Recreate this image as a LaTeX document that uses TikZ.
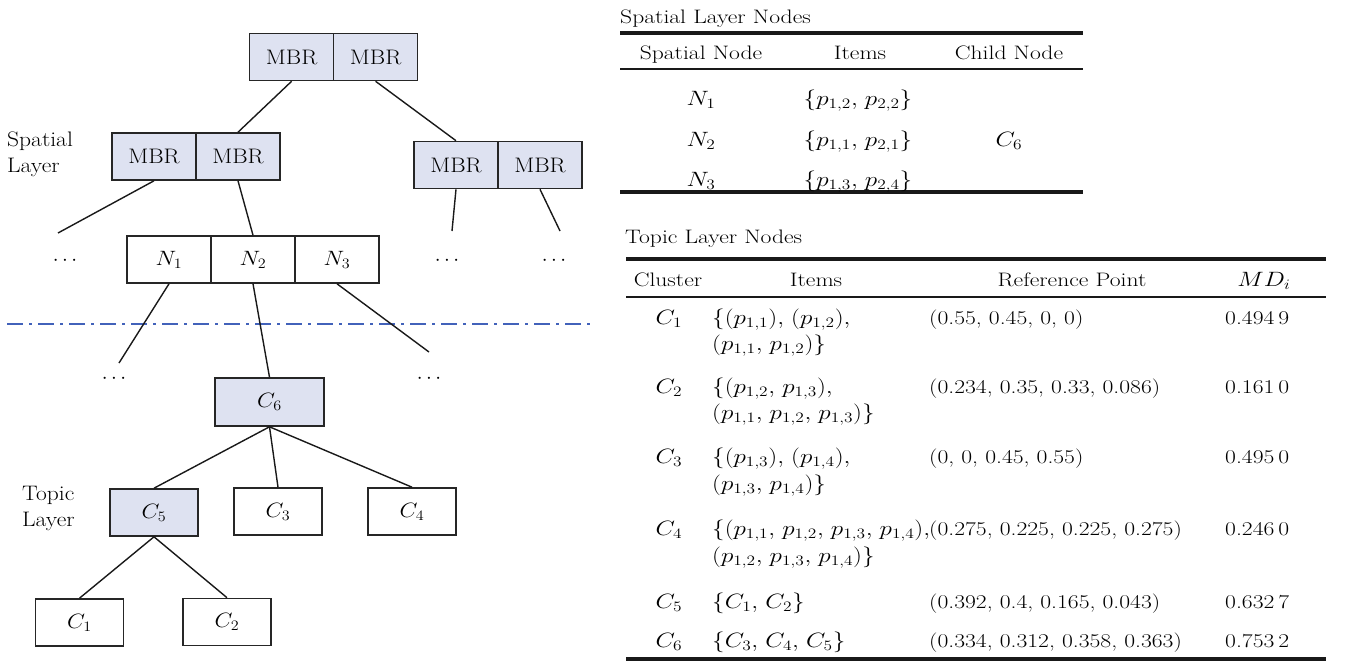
\documentclass[tikz,border=0pt]{standalone}
\definecolor{mbrfill}{RGB}{222,226,241}
\definecolor{sepblue}{RGB}{66,98,186}
% wide-set text
\newcommand\tw[1]{\scalebox{1.12}[1]{#1}}
\newcommand\tb[1]{\scalebox{1.21}[1]{#1}}
\newcommand\treefont{\fontsize{21}{26}\selectfont}
\newcommand\tabfont{\fontsize{19.5}{24}\selectfont}
% list separator inside formulas: comma followed by a word space
\newcommand\cs{{,}\ }

\begin{document}
\begin{tikzpicture}[x=1pt,y=-1pt,
  cell/.style={draw=black!85, line width=1.6pt, minimum width=84pt,
    minimum height=47pt, inner sep=0pt, font=\treefont},
  shaded/.style={cell, fill=mbrfill},
  link/.style={draw=black!90, line width=1.4pt},
  dots/.style={font=\treefont, inner sep=0pt},
  lbl/.style={font=\treefont, inner sep=0pt, align=left},
  sepline/.style={draw=sepblue, line width=1.8pt, dash pattern=on 16pt off 6pt on 3pt off 6pt},
  tx/.style={font=\tabfont, inner sep=0pt},
  heavyrule/.style={draw=black!90, line width=3.4pt},
  lightrule/.style={draw=black!90, line width=2.4pt}]

\useasboundingbox (0,0) rectangle (1346,666);

% ---------------- layer separator ----------------
\coordinate (sepL) at (7,324);
\coordinate (sepR) at (591,324);
\draw[sepline] (sepL) -- (sepR);

% ---------------- spatial layer (R-tree) ----------------
\node[shaded] (t1) at (291.6,57) {\tw{MBR}};
\node[shaded] (t2) at (375.6,57) {\tw{MBR}};
\node[shaded] (l1) at (154,156.5) {\tw{MBR}};
\node[shaded] (l2) at (238,156.5) {\tw{MBR}};
\node[shaded] (r1) at (456,165) {\tw{MBR}};
\node[shaded] (r2) at (540,165) {\tw{MBR}};

\node[cell] (n1) at (169,259.5) {\tw{$N_1$}};
\node[cell] (n2) at (253,259.5) {\tw{$N_2$}};
\node[cell] (n3) at (337,259.5) {\tw{$N_3$}};

\node[dots] (d1) at (65,261) {$\cdots$};
\node[dots] (d2) at (447,261) {$\cdots$};
\node[dots] (d3) at (554,261) {$\cdots$};
\node[dots] (d4) at (114,379) {$\cdots$};
\node[dots] (d5) at (429,379) {$\cdots$};

\coordinate (e1) at (58,233);
\coordinate (e2) at (452,231);
\coordinate (e3) at (560,231);
\coordinate (e4) at (119,363);
\coordinate (e5) at (429,352);

\node[lbl, anchor=west] (spl) at (7,154) {\tw{Spatial}\\\tw{Layer}};

% ---------------- topic layer (cluster tree) ----------------
\node[shaded, minimum width=109pt, minimum height=48pt] (c6) at (269.5,402) {\tw{$C_6$}};
\node[shaded, minimum width=88pt] (c5) at (154,512.5) {\tw{$C_5$}};
\node[cell, minimum width=88pt] (c3) at (278,511.5) {\tw{$C_3$}};
\node[cell, minimum width=88pt] (c4) at (412,511.5) {\tw{$C_4$}};
\node[cell, minimum width=88pt] (c1) at (79.5,622.5) {\tw{$C_1$}};
\node[cell, minimum width=88pt] (c2) at (227,622) {\tw{$C_2$}};

\node[lbl, anchor=west] (tpl) at (22,508) {\tw{Topic}\\\tw{Layer}};

% ---------------- connectors ----------------
\draw[link] (t1.south) -- (l2.north);
\draw[link] (t2.south) -- (r1.north);
\draw[link] (l1.south) -- (e1);
\draw[link] (l2.south) -- (n2.north);
\draw[link] (r1.south) -- (e2);
\draw[link] (r2.south) -- (e3);
\draw[link] (n1.south) -- (e4);
\draw[link] (n2.south) -- (c6.north);
\draw[link] (n3.south) -- (e5);
\draw[link] (c6.south) -- (c5.north);
\draw[link] (c6.south) -- (c3.north);
\draw[link] (c6.south) -- (c4.north);
\draw[link] (c5.south) -- (c1.north);
\draw[link] (c5.south) -- (c2.north);

% ---------------- table: spatial layer nodes ----------------
\node[tx, anchor=base west] (st) at (620,23.6) {\tb{Spatial Layer Nodes}};
\coordinate (sa) at (620,33);   \coordinate (sb) at (1083,33);
\coordinate (sc) at (620,69);   \coordinate (sd) at (1083,69);
\coordinate (se) at (620,192);  \coordinate (sf) at (1083,192);
\draw[heavyrule] (sa) -- (sb);
\draw[lightrule] (sc) -- (sd);
\draw[heavyrule] (se) -- (sf);

\node[tx, anchor=base] (sh1) at (701,59.6) {\tb{Spatial Node}};
\node[tx, anchor=base] (sh2) at (860,59.6) {\tb{Items}};
\node[tx, anchor=base] (sh3) at (1009,59.6) {\tb{Child Node}};

\node[tx, anchor=base] (sn1) at (701,105.6) {\tb{$N_1$}};
\node[tx, anchor=base] (sn2) at (701,146.6) {\tb{$N_2$}};
\node[tx, anchor=base] (sn3) at (701,186.6) {\tb{$N_3$}};
\node[tx, anchor=base] (si1) at (858,105.6) {\tb{$\{p_{1,2}\cs p_{2,2}\}$}};
\node[tx, anchor=base] (si2) at (858,146.6) {\tb{$\{p_{1,1}\cs p_{2,1}\}$}};
\node[tx, anchor=base] (si3) at (858,186.6) {\tb{$\{p_{1,3}\cs p_{2,4}\}$}};
\node[tx, anchor=base] (sc6) at (1009,146.6) {\tb{$C_6$}};

% ---------------- table: topic layer nodes ----------------
\node[tx, anchor=base west] (tt) at (625,243.6) {\tb{Topic Layer Nodes}};
\coordinate (ta) at (626,259);  \coordinate (tb) at (1326,259);
\coordinate (tc) at (626,297);  \coordinate (td) at (1326,297);
\coordinate (te) at (626,659);  \coordinate (tf) at (1326,659);
\draw[heavyrule] (ta) -- (tb);
\draw[lightrule] (tc) -- (td);
\draw[heavyrule] (te) -- (tf);

\node[tx, anchor=base] (th1) at (668,286.6) {\tb{Cluster}};
\node[tx, anchor=base] (th2) at (816,286.6) {\tb{Items}};
\node[tx, anchor=base] (th3) at (1072,286.6) {\tb{Reference Point}};
\node[tx, anchor=base] (th4) at (1264,286.6) {\tb{$MD_i$}};

% cluster column
\node[tx, anchor=base] (k1) at (669,324.6) {\tb{$C_1$}};
\node[tx, anchor=base] (k2) at (669,393.6) {\tb{$C_2$}};
\node[tx, anchor=base] (k3) at (669,463.6) {\tb{$C_3$}};
\node[tx, anchor=base] (k4) at (669,535.6) {\tb{$C_4$}};
\node[tx, anchor=base] (k5) at (669,608.6) {\tb{$C_5$}};
\node[tx, anchor=base] (k6) at (669,647.6) {\tb{$C_6$}};

% items column
\node[tx, anchor=base west] (i1a) at (712,324.6) {\tb{$\{(p_{1,1})\cs (p_{1,2}){,}$}};
\node[tx, anchor=base west] (i1b) at (712,350.6) {\tb{$(p_{1,1}\cs p_{1,2})\}$}};
\node[tx, anchor=base west] (i2a) at (712,393.6) {\tb{$\{(p_{1,2}\cs p_{1,3}){,}$}};
\node[tx, anchor=base west] (i2b) at (712,419.6) {\tb{$(p_{1,1}\cs p_{1,2}\cs p_{1,3})\}$}};
\node[tx, anchor=base west] (i3a) at (712,463.6) {\tb{$\{(p_{1,3})\cs (p_{1,4}){,}$}};
\node[tx, anchor=base west] (i3b) at (712,490.6) {\tb{$(p_{1,3}\cs p_{1,4})\}$}};
\node[tx, anchor=base west] (i4a) at (712,535.6) {\tb{$\{(p_{1,1}\cs p_{1,2}\cs p_{1,3}\cs p_{1,4}){,}$}};
\node[tx, anchor=base west] (i4b) at (712,562.6) {\tb{$(p_{1,2}\cs p_{1,3}\cs p_{1,4})\}$}};
\node[tx, anchor=base west] (i5) at (712,608.6) {\tb{$\{C_1\cs C_2\}$}};
\node[tx, anchor=base west] (i6) at (712,647.6) {\tb{$\{C_3\cs C_4\cs C_5\}$}};

% reference point column
\node[tx, anchor=base west] (p1) at (929,324.6) {\tb{(0.55, 0.45, 0, 0)}};
\node[tx, anchor=base west] (p2) at (929,393.6) {\tb{(0.234, 0.35, 0.33, 0.086)}};
\node[tx, anchor=base west] (p3) at (929,463.6) {\tb{(0, 0, 0.45, 0.55)}};
\node[tx, anchor=base west] (p4) at (929,535.6) {\tb{(0.275, 0.225, 0.225, 0.275)}};
\node[tx, anchor=base west] (p5) at (929,608.6) {\tb{(0.392, 0.4, 0.165, 0.043)}};
\node[tx, anchor=base west] (p6) at (929,647.6) {\tb{(0.334, 0.312, 0.358, 0.363)}};

% MD column
\node[tx, anchor=base west] (m1) at (1225,324.6) {\tb{0.494\,9}};
\node[tx, anchor=base west] (m2) at (1225,393.6) {\tb{0.161\,0}};
\node[tx, anchor=base west] (m3) at (1225,463.6) {\tb{0.495\,0}};
\node[tx, anchor=base west] (m4) at (1225,535.6) {\tb{0.246\,0}};
\node[tx, anchor=base west] (m5) at (1225,608.6) {\tb{0.632\,7}};
\node[tx, anchor=base west] (m6) at (1225,647.6) {\tb{0.753\,2}};
\end{tikzpicture}
\end{document}
